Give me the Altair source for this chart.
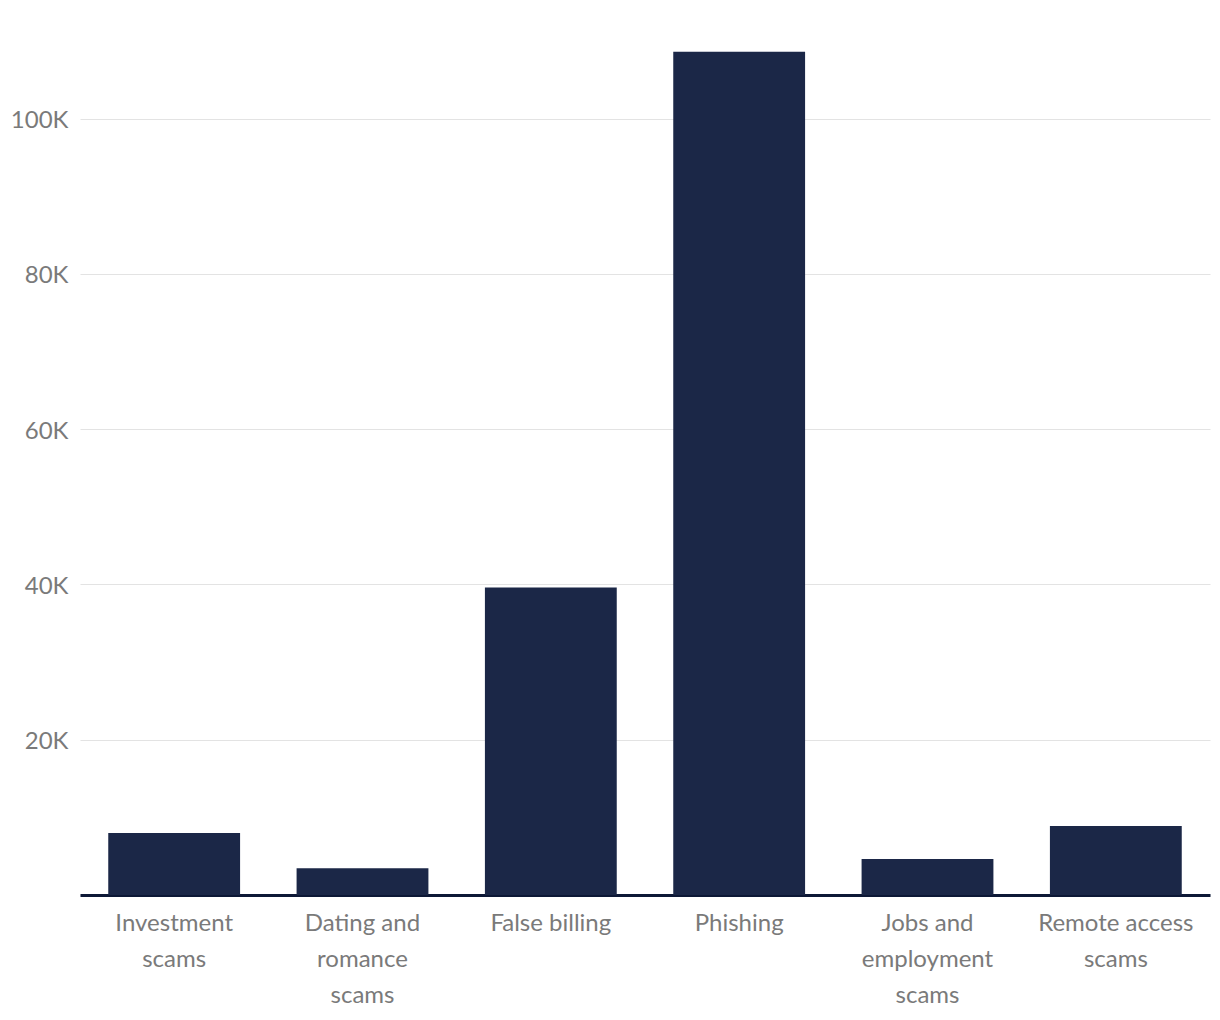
import altair as alt
import pandas as pd

categories = ["Investment|scams", "Dating and|romance|scams", "False billing", "Phishing",
              "Jobs and|employment|scams", "Remote access|scams"]
values = [8000, 3450, 39600, 108600, 4650, 8900]

df = pd.DataFrame({"category": categories, "reports": values})

FONT = "Lato"

chart = alt.Chart(df).mark_bar(color="#1b2747").encode(
    x=alt.X("category:N", sort=None, title=None,
            scale=alt.Scale(paddingInner=0.3, paddingOuter=0.15),
            axis=alt.Axis(labelAngle=0, labelExpr="split(datum.value, '|')",
                          labelFont=FONT, labelFontSize=24, labelColor="#7a7a7a",
                          labelLineHeight=36, labelPadding=16, ticks=False,
                          domainColor="#0d1836", domainWidth=3, labelLimit=300)),
    y=alt.Y("reports:Q", title=None,
            scale=alt.Scale(domain=[0, 110000], nice=False),
            axis=alt.Axis(values=[0, 20000, 40000, 60000, 80000, 100000],
                          labelExpr="datum.value == 0 ? '' : replace(format(datum.value, '~s'), 'k', 'K')",
                          labelFont=FONT, labelFontSize=24, labelColor="#7a7a7a",
                          labelPadding=12, labelOffset=2, ticks=False, domain=False,
                          gridColor="#e3e3e3", gridWidth=1.2)),
).properties(
    width=1130, height=854,
    autosize=alt.AutoSizeParams(type="none"),
    padding={"left": 80, "top": 41, "right": 10, "bottom": 125},
).configure_view(stroke=None)

chart.save("out.html", embed_options={"renderer": "svg", "actions": False})
